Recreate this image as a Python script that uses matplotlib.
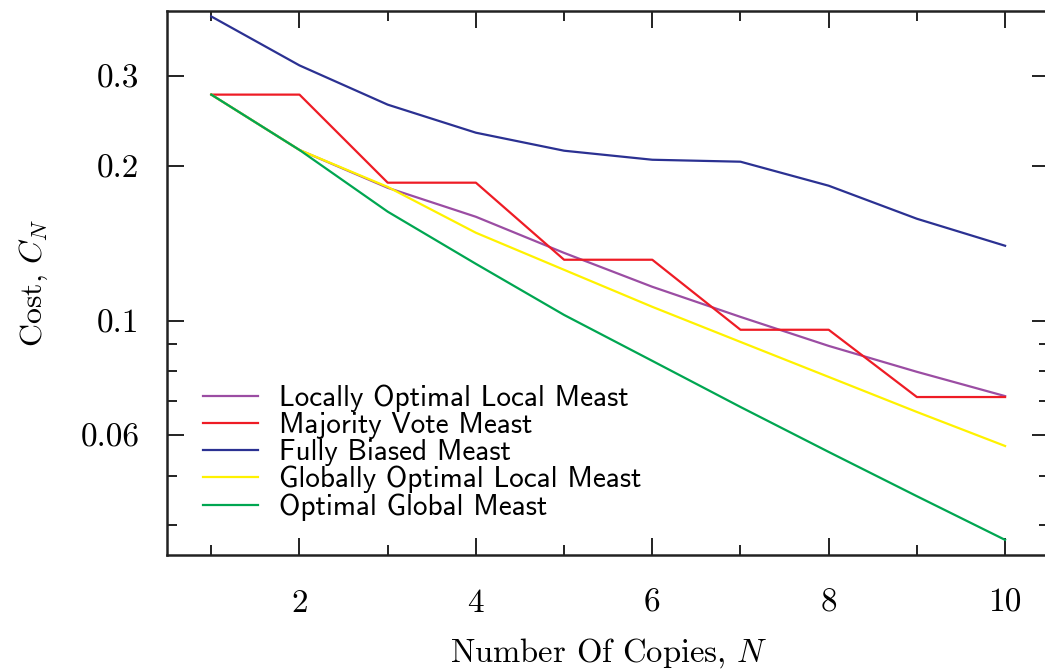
import matplotlib
matplotlib.use('Agg')
import matplotlib.pyplot as plt
from matplotlib.ticker import FixedLocator, NullFormatter

plt.rcParams['mathtext.fontset'] = 'cm'

copies = [1, 2, 3, 4, 5, 6, 7, 8, 9, 10]
locally_opt = [0.2755, 0.215, 0.1815, 0.1594, 0.1356, 0.1165, 0.1018, 0.0894, 0.0796, 0.0714]
majority = [0.2755, 0.2755, 0.1857, 0.1857, 0.1315, 0.1315, 0.0961, 0.0961, 0.0711, 0.0711]
fully_biased = [0.391, 0.314, 0.2634, 0.2323, 0.2143, 0.2058, 0.204, 0.1832, 0.158, 0.140]
globally_opt = [0.2755, 0.215, 0.1822, 0.1484, 0.1257, 0.1065, 0.0910, 0.0778, 0.0665, 0.0571]
optimal_global = [0.2755, 0.215, 0.1631, 0.1291, 0.1027, 0.0836, 0.068, 0.0556, 0.0456, 0.0375]

labels = ['Locally Optimal Local Meast', 'Majority Vote Meast', 'Fully Biased Meast',
          'Globally Optimal Local Meast', 'Optimal Global Meast']
colors = ['#9b4da3', '#ee1c25', '#2b3192', '#fff200', '#00a651']

y_major = [0.06, 0.1, 0.2, 0.3]
y_major_labels = ['0.06', '0.1', '0.2', '0.3']
y_minor = [0.04, 0.05, 0.07, 0.08, 0.09]
x_major = [2, 4, 6, 8, 10]
x_minor = [1, 3, 5, 7, 9]

fig = plt.figure(figsize=(10.45, 6.69), dpi=100)
ax = fig.add_axes([0.160, 0.170, 0.844, 0.813])

series = [locally_opt, majority, fully_biased, globally_opt, optimal_global]
for vals, lab, col in zip(series, labels, colors):
    ax.plot(copies, vals, color=col, lw=1.6, label=lab)

ax.set_yscale('log')
ax.set_xlim(0.5, 10.5)
ax.set_ylim(0.035, 0.4)

ax.yaxis.set_major_locator(FixedLocator(y_major))
ax.set_yticklabels(y_major_labels)
ax.yaxis.set_minor_locator(FixedLocator(y_minor))
ax.yaxis.set_minor_formatter(NullFormatter())
ax.xaxis.set_major_locator(FixedLocator(x_major))
ax.set_xticklabels([str(v) for v in x_major])
ax.xaxis.set_minor_locator(FixedLocator(x_minor))

ax.tick_params(which='both', direction='in', top=True, right=True, color='#222222', width=1.4)
ax.tick_params(which='major', length=12, labelsize=24)
ax.tick_params(which='minor', length=7)
ax.tick_params(axis='y', which='major', pad=20)
ax.tick_params(axis='x', which='major', pad=24)
for t in ax.get_xticklabels() + ax.get_yticklabels():
    t.set_fontname('cmr10')
for s in ax.spines.values():
    s.set_linewidth(1.8)
    s.set_color('#222222')

ax.set_xlabel('Number Of Copies, $N$', fontname='cmr10', fontsize=23.5, labelpad=13)
ax.set_ylabel('Cost, $C_N$', fontname='cmr10', fontsize=23, labelpad=22)

leg = ax.legend(loc='upper left', bbox_to_anchor=(0.041, 0.314), frameon=False,
                prop={'family': 'cmss10', 'size': 21}, handlelength=1.88,
                handletextpad=0.72, labelspacing=0.0, borderaxespad=0, borderpad=0)

fig.savefig('out.png', dpi=100)
